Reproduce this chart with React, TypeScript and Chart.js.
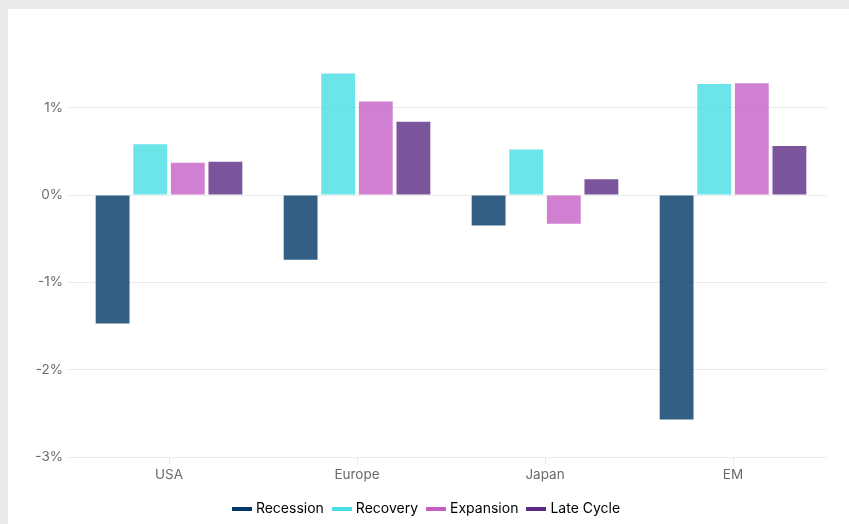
import React, { useEffect, useRef } from "react";
import { Chart, registerables } from "chart.js";

Chart.register(...registerables);

const regions = ["USA", "Europe", "Japan", "EM"];
const seriesNames = ["Recession", "Recovery", "Expansion", "Late Cycle"];
const recession = [-1.47, -0.74, -0.35, -2.57];
const recovery = [0.58, 1.39, 0.52, 1.27];
const expansion = [0.37, 1.07, -0.33, 1.28];
const lateCycle = [0.38, 0.84, 0.18, 0.56];
const seriesColors = ["#003766", "#47dee5", "#c45fc5", "#592a83"];
const yTicks = [-3, -2, -1, 0, 1];

function withAlpha(hex: string, a: number) {
  const n = parseInt(hex.slice(1), 16);
  return `rgba(${(n >> 16) & 255},${(n >> 8) & 255},${n & 255},${a})`;
}

// Short thick bar used as the legend swatch for each series
function swatch(color: string) {
  const c = document.createElement("canvas");
  c.width = 20;
  c.height = 4;
  const ctx = c.getContext("2d");
  if (ctx) {
    ctx.fillStyle = color;
    ctx.fillRect(0, 0, 20, 4);
  }
  return c;
}

// Centre the legend on the whole canvas rather than on the padded layout width
const legendShift = {
  id: "legendShift",
  afterLayout(chart: any) {
    const lg = chart.legend;
    if (lg) {
      lg.left += 10;
      lg.right += 10;
    }
  },
};

export default function App() {
  const ref = useRef<HTMLCanvasElement | null>(null);

  useEffect(() => {
    if (!ref.current) return;
    const values = [recession, recovery, expansion, lateCycle];
    const tickFont = { family: "Inter", size: 13.5 };
    const chart = new Chart(ref.current, {
      type: "bar",
      data: {
        labels: regions,
        datasets: seriesNames.map((name, i) => ({
          label: name,
          data: values[i],
          backgroundColor: withAlpha(seriesColors[i], 0.8),
          borderColor: seriesColors[i],
          borderWidth: 0,
          categoryPercentage: 0.8,
          barPercentage: 0.9,
        })),
      },
      plugins: [legendShift],
      options: {
        animation: false,
        responsive: false,
        layout: { padding: { left: 0, right: 22, top: 55, bottom: 0 } },
        scales: {
          x: {
            grid: {
              offset: false,
              drawOnChartArea: false,
              drawTicks: true,
              tickLength: 8,
              color: "#ececec",
            },
            border: { display: false },
            ticks: {
              padding: 2,
              color: "#6b6b6b",
              font: tickFont,
            },
            afterFit: (scale: any) => {
              scale.height = 34;
            },
          },
          y: {
            min: -3,
            max: 1.5,
            afterBuildTicks: (scale: any) => {
              scale.ticks = yTicks.map((v) => ({ value: v }));
            },
            afterFit: (scale: any) => {
              scale.width = 67;
            },
            grid: { color: "#ececec", tickLength: 7 },
            border: { display: false },
            ticks: {
              padding: 5,
              color: "#6b6b6b",
              font: tickFont,
              callback: (v: any) => `${v}%`,
            },
          },
        },
        plugins: {
          legend: {
            position: "bottom",
            labels: {
              usePointStyle: true,
              pointStyleWidth: 14,
              padding: 11,
              color: "#3a3a3a",
              font: { family: "Inter", size: 14 },
              generateLabels: () =>
                seriesNames.map((name, i) => ({
                  text: name,
                  fillStyle: seriesColors[i],
                  strokeStyle: seriesColors[i],
                  lineWidth: 0,
                  pointStyle: swatch(seriesColors[i]),
                  datasetIndex: i,
                  hidden: false,
                })),
            },
          },
          tooltip: { enabled: false },
        },
      },
    });
    return () => chart.destroy();
  }, []);

  return (
    <div style={{ position: "fixed", inset: 0, background: "#e9eaec", overflow: "hidden" }}>
      <div
        style={{
          position: "absolute",
          left: 8,
          top: 9,
          right: 0,
          bottom: 0,
          background: "#ffffff",
          overflow: "hidden",
        }}
      >
        <canvas ref={ref} width={841} height={517} style={{ display: "block" }} />
      </div>
    </div>
  );
}
